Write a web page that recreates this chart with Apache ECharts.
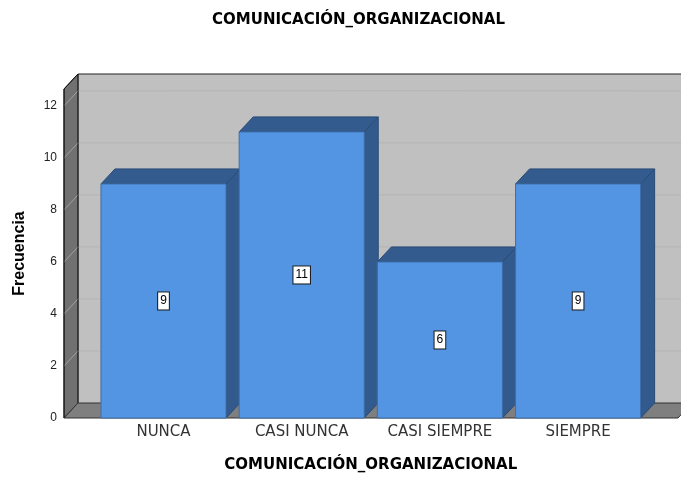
<!DOCTYPE html>
<html>
<head>
<meta charset="utf-8">
<script src="https://cdn.jsdelivr.net/npm/echarts@6/dist/echarts.min.js"></script>
<style>
  html, body { margin: 0; padding: 0; background: #fff; }
  #chart { width: 681px; height: 478px; }
</style>
</head>
<body>
<div id="chart"></div>
<script>
const categories = ['NUNCA', 'CASI NUNCA', 'CASI SIEMPRE', 'SIEMPRE'];
const frecuencias = [9, 11, 6, 9];
const yTicks = [0, 2, 4, 6, 8, 10, 12];

const titleText = 'COMUNICACIÓN_ORGANIZACIONAL';
const yMax = 12.65;
// 3D depth offset (px)
const DX = 14, DY = 15;

const myChart = echarts.init(document.getElementById('chart'));

// walls, floor and grid lines of the SPSS-like 3D frame
function renderFrame(params, api) {
  const p0 = api.coord([0, 0]);
  const p1 = api.coord([1, yMax]);
  const xl = p0[0], xr = p1[0], yb = p0[1], yt = p1[1];
  const children = [];
  // back wall
  children.push({
    type: 'rect',
    shape: { x: xl + DX, y: yt - DY, width: xr - xl + 20, height: yb - yt },
    style: { fill: '#c0c0c0', stroke: null }
  });
  // left wall
  children.push({
    type: 'polygon',
    shape: { points: [[xl, yb], [xl, yt], [xl + DX, yt - DY], [xl + DX, yb - DY]] },
    style: { fill: '#717171', stroke: '#222', lineWidth: 1 }
  });
  yTicks.forEach(t => {
    if (t === 0) return;
    const y = api.coord([0, t])[1];
    children.push({
      type: 'line',
      shape: { x1: xl + DX, y1: y - DY, x2: xr + DX + 20, y2: y - DY },
      style: { stroke: '#b3b3b3', lineWidth: 1 }
    });
    children.push({
      type: 'line',
      shape: { x1: xl, y1: y, x2: xl + DX, y2: y - DY },
      style: { stroke: '#a2a2a2', lineWidth: 1 }
    });
  });
  // back wall top and left edges
  children.push({
    type: 'polyline',
    shape: { points: [[xl + DX, yb - DY], [xl + DX, yt - DY], [xr + DX + 20, yt - DY]] },
    style: { stroke: '#222', lineWidth: 1, fill: null }
  });
  // floor
  children.push({
    type: 'polygon',
    shape: { points: [[xl, yb], [xl + DX, yb - DY], [xr + DX, yb - DY], [xr, yb]] },
    style: { fill: '#7f7f7f', stroke: '#333', lineWidth: 1 }
  });
  // front left edge
  children.push({
    type: 'polyline',
    shape: { points: [[xl, yb], [xl, yt], [xl + DX, yt - DY]] },
    style: { stroke: '#111', lineWidth: 1, fill: null }
  });
  return { type: 'group', children: children };
}

function renderBar(params, api) {
  const i = api.value(0);
  const v = api.value(1);
  const base = api.coord([i, 0]);
  const top = api.coord([i, v]);
  const w = api.size([1, 0])[0] * 0.905;
  const x = base[0] - w / 2, y0 = base[1], y1 = top[1];
  return {
    type: 'group',
    children: [
      {
        type: 'polygon',
        shape: { points: [[x + w, y1], [x + w + DX, y1 - DY], [x + w + DX, y0 - DY], [x + w, y0]] },
        style: { fill: '#335a8c', stroke: '#2a4b76', lineWidth: 1 }
      },
      {
        type: 'polygon',
        shape: { points: [[x, y1], [x + DX, y1 - DY], [x + w + DX, y1 - DY], [x + w, y1]] },
        style: { fill: '#345b8e', stroke: '#2a4b76', lineWidth: 1 }
      },
      {
        type: 'rect',
        shape: { x: x, y: y1, width: w, height: y0 - y1 },
        style: { fill: '#5394e3', stroke: '#3e6ea8', lineWidth: 1 }
      },
      {
        type: 'text',
        style: {
          text: String(v),
          x: base[0],
          y: (y0 + y1) / 2,
          align: 'center',
          verticalAlign: 'middle',
          fill: '#000',
          fontSize: 12,
          fontFamily: 'Liberation Sans',
          backgroundColor: '#fff',
          borderColor: '#1a1a1a',
          borderWidth: 1,
          padding: [3, 2, 2, 2]
        }
      }
    ]
  };
}

const option = {
  animation: false,
  title: {
    text: titleText,
    left: 353.5,
    top: 8,
    textAlign: 'center',
    textStyle: { fontFamily: 'DejaVu Sans', fontWeight: 'bold', fontSize: 15, color: '#000' }
  },
  grid: [
    { left: 64, right: 3, top: 89, bottom: 60 },
    { left: 94.4, right: 33.8, top: 89, bottom: 60 }
  ],
  xAxis: [
    { type: 'value', gridIndex: 0, min: 0, max: 1, show: false },
    {
      type: 'category',
      gridIndex: 1,
      data: categories,
      axisLine: { show: false },
      axisTick: { show: false },
      axisLabel: {
        interval: 0,
        hideOverlap: false,
        fontFamily: 'DejaVu Sans',
        fontSize: 15,
        color: '#333',
        margin: 7
      },
      name: titleText,
      nameLocation: 'middle',
      nameGap: 40,
      nameTextStyle: { fontFamily: 'DejaVu Sans', fontWeight: 'bold', fontSize: 15, color: '#000' }
    }
  ],
  yAxis: [
    {
      type: 'value',
      gridIndex: 0,
      min: 0,
      max: yMax,
      interval: 2,
      axisLine: { show: false },
      axisTick: { show: false },
      splitLine: { show: false },
      axisLabel: {
        fontFamily: 'Liberation Sans',
        fontSize: 12,
        color: '#222',
        margin: 7,
        formatter: v => (yTicks.indexOf(v) >= 0 ? String(v) : '')
      },
      name: 'Frecuencia',
      nameLocation: 'middle',
      nameGap: 36,
      nameTextStyle: { fontFamily: 'Liberation Sans', fontWeight: 'bold', fontSize: 16, color: '#000' }
    },
    { type: 'value', gridIndex: 1, min: 0, max: yMax, show: false }
  ],
  series: [
    {
      type: 'custom',
      xAxisIndex: 0,
      yAxisIndex: 0,
      z: 1,
      silent: true,
      renderItem: renderFrame,
      data: [[0, 0]]
    },
    {
      type: 'custom',
      xAxisIndex: 1,
      yAxisIndex: 1,
      z: 2,
      renderItem: renderBar,
      encode: { x: 0, y: 1 },
      data: categories.map((c, i) => [i, frecuencias[i]])
    }
  ]
};

myChart.setOption(option, true);
</script>
</body>
</html>
